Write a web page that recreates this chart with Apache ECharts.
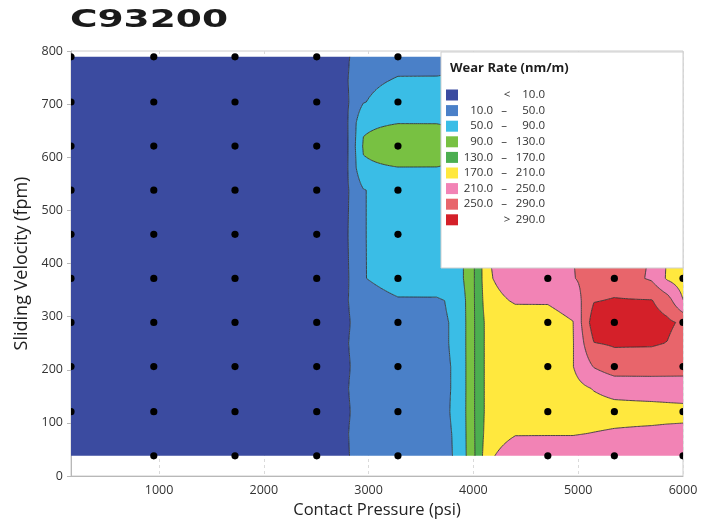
<!DOCTYPE html>
<html><head><meta charset="utf-8">
<script src="https://cdn.jsdelivr.net/npm/echarts@6/dist/echarts.min.js"></script>
<style>html,body{margin:0;padding:0;background:#fff}#c{width:710px;height:523px}</style>
</head><body><div id="c"></div>
<script>
// Grid of wear-rate readings (nm/m): columns = contact pressure (psi), rows = sliding velocity (fpm)
const xCols = [160, 950, 1725, 2505, 2800, 2950, 3280, 3650, 3850, 4000, 4150, 4400, 4710, 4950, 5150, 5345, 5700, 5850, 6000];
const yRows = [38, 80, 121, 165, 206, 250, 289, 330, 372, 455, 538, 580, 621, 665, 704, 745, 789];
const wear = [
  [2,3,3,4, 8, 25, 33, 44, 52,122,205,228,230,230,232,233,235,236,236],
  [3,2,3,4, 9, 26, 34, 45, 52,124,195,208,208,208,211,214,218,220,221],
  [3,3,2,4, 7, 25, 35, 45, 53,125,190,190,188,190,195,197,196,197,198],
  [2,3,3,4, 9, 26, 35, 46, 52,125,190,192,192,198,212,222,228,230,232],
  [3,3,3,4, 7, 25, 36, 46, 52,125,190,194,195,209,252,272,268,266,264],
  [2,3,3,4, 9, 26, 36, 46, 53,125,190,194,195,208,289,294,294,289,270],
  [3,2,3,4, 7, 25, 37, 46, 53,125,190,195,196,209,312,318,308,298,283],
  [3,3,3,4, 9, 30, 46, 47, 55,125,200,213,213,225,288,293,292,268,211],
  [3,3,3,4, 7, 48, 70, 66, 70,125,207,228,232,248,265,272,245,205,190],
  [3,3,2,4, 9, 48, 72, 70, 70,125,212,228,232,251,268,275,250,210,195],
  [3,3,3,4, 7, 48, 72, 72, 72,125,212,228,232,251,265,270,250,215,200],
  [3,3,3,4, 9, 84, 89, 89, 85,125,212,228,232,251,265,270,250,215,200],
  [3,2,3,4, 8, 94,115,112,100,125,212,228,232,251,265,270,250,215,200],
  [3,3,3,4, 9, 84, 89, 89, 85,125,212,228,232,251,265,270,250,215,200],
  [3,3,3,4, 7, 48, 72, 72, 72,125,212,228,232,251,265,270,250,215,200],
  [3,3,2,4, 9, 40, 53, 53, 55,120,212,228,232,251,265,270,250,215,200],
  [3,3,3,4, 7, 30, 35, 36, 40,110,212,228,232,251,265,270,250,215,200]
];
const levels = [10, 50, 90, 130, 170, 210, 250, 290];
const bandColors = ['#3b4ba0', '#4a80c8', '#3abde6', '#78c142', '#4cae50', '#ffe83e', '#f283b5', '#e8656b', '#d42029'];
const dotX = [160, 950, 1725, 2505, 3280, 4710, 5345, 6000];
const dotY = [38, 121, 206, 289, 372, 455, 538, 621, 704, 789];
const missingDots = [[160, 38]];

const dots = [];
dotY.forEach(y => dotX.forEach(x => {
  if (!missingDots.some(m => m[0] === x && m[1] === y)) dots.push([x, y]);
}));

function bandOf(v) { let k = 0; for (const L of levels) if (v >= L) k++; return k; }
function clip(poly, L, keepAbove) {
  const out = [];
  const n = poly.length;
  for (let i = 0; i < n; i++) {
    const a = poly[i], b = poly[(i + 1) % n];
    const ina = keepAbove ? a.v >= L : a.v < L;
    const inb = keepAbove ? b.v >= L : b.v < L;
    if (ina) out.push(a);
    if (ina !== inb) {
      const t = (L - a.v) / (b.v - a.v);
      out.push({ x: a.x + t * (b.x - a.x), y: a.y + t * (b.y - a.y), v: L });
    }
  }
  return out;
}
function polyStr(pts) {
  return 'M' + pts.map(p => p.x.toFixed(2) + ' ' + p.y.toFixed(2)).join('L') + 'Z';
}

function buildContours(api) {
  const fills = bandColors.map(() => []);
  const lines = [];
  const P = yRows.map(y => xCols.map(x => api.coord([x, y])));
  const N = 10;
  function doTri(tri) {
    let vmin = Infinity, vmax = -Infinity;
    tri.forEach(p => { vmin = Math.min(vmin, p.v); vmax = Math.max(vmax, p.v); });
    const k0 = bandOf(vmin), k1 = bandOf(vmax);
    if (k0 === k1) { fills[k0].push(polyStr(tri)); return; }
    for (let k = k0; k <= k1; k++) {
      let poly = tri;
      if (k > 0) poly = clip(poly, levels[k - 1], true);
      if (k < levels.length && poly.length) poly = clip(poly, levels[k], false);
      if (poly.length >= 3) fills[k].push(polyStr(poly));
    }
    for (let li = k0; li < k1; li++) {
      const L = levels[li];
      const pts = [];
      for (let e = 0; e < 3; e++) {
        const a = tri[e], b = tri[(e + 1) % 3];
        if ((a.v >= L) !== (b.v >= L)) {
          const t = (L - a.v) / (b.v - a.v);
          pts.push([a.x + t * (b.x - a.x), a.y + t * (b.y - a.y)]);
        }
      }
      if (pts.length === 2) lines.push('M' + pts[0][0].toFixed(2) + ' ' + pts[0][1].toFixed(2) + 'L' + pts[1][0].toFixed(2) + ' ' + pts[1][1].toFixed(2));
    }
  }
  for (let j = 0; j < yRows.length - 1; j++) {
    for (let i = 0; i < xCols.length - 1; i++) {
      const v00 = wear[j][i], v10 = wear[j][i + 1], v01 = wear[j + 1][i], v11 = wear[j + 1][i + 1];
      const p00 = P[j][i], p10 = P[j][i + 1], p01 = P[j + 1][i];
      const bx = p00[0], by = p00[1], dx = p10[0] - p00[0], dy = p01[1] - p00[1];
      const cb = [v00, v10, v01, v11].map(bandOf);
      if (cb.every(b => b === cb[0])) {
        fills[cb[0]].push(polyStr([
          { x: bx, y: by }, { x: bx + dx, y: by }, { x: bx + dx, y: by + dy }, { x: bx, y: by + dy }
        ]));
        continue;
      }
      const node = (a, b) => {
        const s = a / N, t = b / N;
        return {
          x: bx + s * dx, y: by + t * dy,
          v: v00 * (1 - s) * (1 - t) + v10 * s * (1 - t) + v01 * (1 - s) * t + v11 * s * t
        };
      };
      for (let a = 0; a < N; a++) {
        for (let b = 0; b < N; b++) {
          const n00 = node(a, b), n10 = node(a + 1, b), n11 = node(a + 1, b + 1), n01 = node(a, b + 1);
          doTri([n00, n10, n11]);
          doTri([n00, n11, n01]);
        }
      }
    }
  }
  const children = [];
  fills.forEach((arr, k) => {
    if (arr.length) children.push({ type: 'path', shape: { pathData: arr.join('') }, style: { fill: bandColors[k], stroke: null } });
  });
  children.push({ type: 'path', shape: { pathData: lines.join('') }, style: { fill: null, stroke: '#2e2e2e', lineWidth: 0.85 } });
  return { type: 'group', children };
}

// Legend (graphic)
const legendEls = [
  { type: 'rect', z: 100, shape: { x: 441, y: 52, width: 242, height: 216 }, style: { fill: '#fff', stroke: '#cfcfcf', lineWidth: 1 } },
  { type: 'text', z: 101, x: 450, y: 68, style: { text: 'Wear Rate (nm/m)', font: 'bold 13px "Open Sans"', fill: '#1e1e1e', align: 'left', verticalAlign: 'middle', textAlign: 'left', textVerticalAlign: 'middle' } }
];
const lf = '11.5px "Open Sans"';
function ltext(x, y, text, align) {
  return { type: 'text', z: 101, x, y, style: { text, font: lf, fill: '#333', align, verticalAlign: 'middle', textAlign: align, textVerticalAlign: 'middle' } };
}
bandColors.forEach((c, i) => {
  const cy = 95 + i * 15.6;
  legendEls.push({ type: 'rect', z: 101, shape: { x: 446, y: cy - 5.5, width: 12, height: 11 }, style: { fill: c } });
  if (i === 0) {
    legendEls.push(ltext(507, cy, '<', 'center'));
    legendEls.push(ltext(545, cy, levels[0].toFixed(1), 'right'));
  } else if (i === bandColors.length - 1) {
    legendEls.push(ltext(507, cy, '>', 'center'));
    legendEls.push(ltext(545, cy, levels[levels.length - 1].toFixed(1), 'right'));
  } else {
    legendEls.push(ltext(493, cy, levels[i - 1].toFixed(1), 'right'));
    legendEls.push(ltext(504, cy, '–', 'center'));
    legendEls.push(ltext(545, cy, levels[i].toFixed(1), 'right'));
  }
});
legendEls.push({ type: 'text', z: 101, x: 70, y: 8, scaleX: 1.5, style: { text: 'C93200', font: 'bold 25px "DejaVu Sans"', fill: '#1a1a1a', align: 'left', verticalAlign: 'top', textAlign: 'left', textVerticalAlign: 'top' } });

const chart = echarts.init(document.getElementById('c'));
chart.setOption({
  animation: false,
  backgroundColor: '#fff',
  grid: { left: 71, right: 27, top: 51, bottom: 47, show: true, borderColor: '#cccccc', borderWidth: 1, containLabel: false, outerBoundsMode: 'none' },
  xAxis: {
    type: 'value', min: 160, max: 6000,
    name: 'Contact Pressure (psi)', nameLocation: 'middle', nameGap: 26,
    nameTextStyle: { fontFamily: 'Open Sans', fontSize: 16.5, color: '#222' },
    axisLine: { show: true, lineStyle: { color: '#b8b8b8' } },
    axisTick: { show: false },
    axisLabel: { formatter: v => (v % 1000 === 0 ? String(v) : ''), fontFamily: 'Open Sans', fontSize: 12.5, color: '#333', margin: 8 },
    splitLine: { show: true, lineStyle: { color: '#dadada', type: [3, 3] } }
  },
  yAxis: {
    type: 'value', min: 0, max: 800, interval: 100,
    name: 'Sliding Velocity (fpm)', nameLocation: 'middle', nameGap: 40, nameRotate: 90,
    nameTextStyle: { fontFamily: 'Open Sans', fontSize: 18, color: '#222' },
    axisLine: { show: true, lineStyle: { color: '#b8b8b8' } },
    axisTick: { show: true, length: 4, lineStyle: { color: '#b8b8b8' } },
    axisLabel: { fontFamily: 'Open Sans', fontSize: 12.5, color: '#333', margin: 8 },
    splitLine: { show: false }
  },
  graphic: { elements: legendEls },
  series: [
    {
      type: 'custom', coordinateSystem: 'cartesian2d', clip: true, silent: true, z: 2,
      data: [[xCols[0], yRows[0]]],
      renderItem: (params, api) => buildContours(api)
    },
    {
      type: 'custom', coordinateSystem: 'cartesian2d', clip: true, silent: true, z: 3,
      data: dots,
      renderItem: (params, api) => {
        const p = api.coord([api.value(0), api.value(1)]);
        return { type: 'circle', shape: { cx: p[0], cy: p[1], r: 3.6 }, style: { fill: '#000' } };
      }
    }
  ]
});
</script>
</body></html>
